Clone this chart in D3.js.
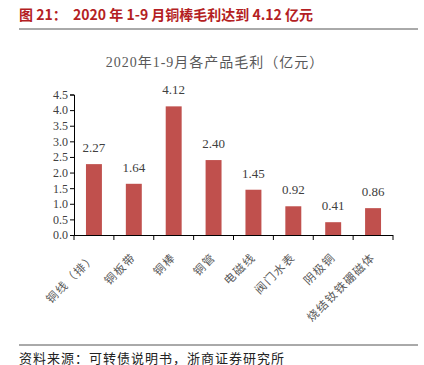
<!DOCTYPE html>
<html>
<head>
  <meta charset="utf-8">
  <script src="https://d3js.org/d3.v7.min.js"></script>
  <style>
    body { margin: 0; background: #fff; }
    svg text { font-family: "Liberation Serif", "Noto Sans CJK SC", serif; }
  </style>
</head>
<body>
  <script>
    var categories = ["铜线（排）", "铜板带", "铜棒", "铜管", "电磁线", "阀门水表", "阴极铜", "烧结钕铁硼磁体"];
    var values = [2.27, 1.64, 4.12, 2.40, 1.45, 0.92, 0.41, 0.86];
    var yTicks = [0, 0.5, 1, 1.5, 2, 2.5, 3, 3.5, 4, 4.5];

    var svg = d3.select("body").append("svg")
        .attr("width", 424)
        .attr("height", 365);

    // header
    svg.append("text")
        .attr("x", 19).attr("y", 20)
        .style("font-family", "'Noto Sans CJK SC', sans-serif")
        .style("font-weight", "bold")
        .style("font-size", "14px")
        .style("white-space", "pre")
        .attr("fill", "#b41e23")
        .text("图 21：  2020 年 1-9 月铜棒毛利达到 4.12 亿元");
    svg.append("line")
        .attr("x1", 19).attr("x2", 418).attr("y1", 29).attr("y2", 29)
        .attr("stroke", "#555").attr("stroke-width", 1);

    svg.append("text")
        .attr("x", 215).attr("y", 67)
        .attr("text-anchor", "middle")
        .style("font-size", "14px")
        .style("letter-spacing", "1px")
        .attr("fill", "#595959")
        .text("2020年1-9月各产品毛利（亿元）");

    var x = d3.scaleBand().domain(categories).range([74, 393]).paddingInner(0.6).paddingOuter(0.3);
    var y = d3.scaleLinear().domain([0, 4.5]).range([235, 94.5]);

    svg.append("g")
        .attr("transform", "translate(74,0)")
        .call(d3.axisLeft(y).tickValues(yTicks).tickFormat(d3.format(".1f")).tickSize(4))
        .call(g => g.select(".domain").attr("stroke", "#000"))
        .call(g => g.selectAll("text").style("font-size", "12px").attr("fill", "#404040").attr("dx", "1"));

    // x axis with ticks at band boundaries
    var xAxis = svg.append("g");
    xAxis.append("line")
        .attr("x1", 74).attr("x2", 393).attr("y1", 235.5).attr("y2", 235.5)
        .attr("stroke", "#000");
    xAxis.selectAll("line.tk")
        .data(d3.range(categories.length + 1))
        .enter().append("line")
        .attr("class", "tk")
        .attr("x1", function(i) { return 74 + i * x.step(); })
        .attr("x2", function(i) { return 74 + i * x.step(); })
        .attr("y1", 235).attr("y2", 240)
        .attr("stroke", "#000");

    svg.append("g").selectAll("rect")
        .data(values)
        .enter().append("rect")
        .attr("x", function(d, i) { return x(categories[i]); })
        .attr("width", x.bandwidth())
        .attr("y", function(d) { return y(d); })
        .attr("height", function(d) { return 235 - y(d); })
        .attr("fill", "#c0504d");

    svg.append("g").selectAll("text")
        .data(values)
        .enter().append("text")
        .attr("x", function(d, i) { return x(categories[i]) + x.bandwidth() / 2; })
        .attr("y", function(d) { return y(d) - 12; })
        .attr("text-anchor", "middle")
        .style("font-size", "13px")
        .attr("fill", "#404040")
        .text(function(d) { return d.toFixed(2); });

    svg.append("g").selectAll("text")
        .data(categories)
        .enter().append("text")
        .attr("transform", function(d) {
          return "translate(" + (x(d) + x.bandwidth() / 2 + 3) + ",258) rotate(-45)";
        })
        .attr("text-anchor", "end")
        .style("font-size", "11.5px")
        .style("letter-spacing", "1.5px")
        .attr("fill", "#595959")
        .text(function(d) { return d; });

    // footer
    svg.append("line")
        .attr("x1", 19).attr("x2", 418).attr("y1", 345).attr("y2", 345)
        .attr("stroke", "#555").attr("stroke-width", 1);
    svg.append("text")
        .attr("x", 19).attr("y", 363)
        .style("font-size", "13px")
        .style("letter-spacing", "1px")
        .attr("fill", "#222")
        .text("资料来源：可转债说明书，浙商证券研究所");
  </script>
</body>
</html>
